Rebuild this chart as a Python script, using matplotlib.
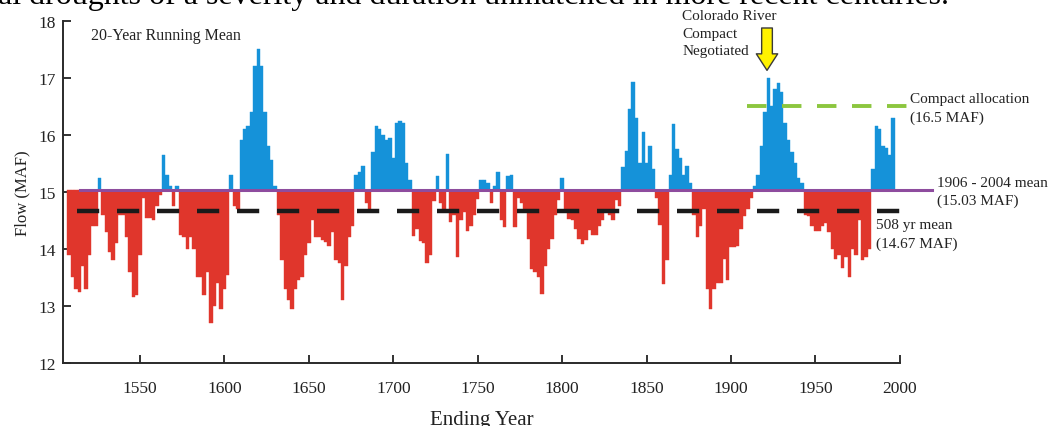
import numpy as np
import matplotlib
matplotlib.use("Agg")
from matplotlib import pyplot as plt

# 20-year running mean of Colorado River flow (MAF), one value every 2 ending years
flow_1500s = [13.9,
              13.5, 13.3, 13.25, 13.7, 13.3,
              13.9, 14.4, 14.4, 15.25, 14.6,
              14.3, 13.95, 13.8, 14.1, 14.6,
              14.6, 14.2, 13.6, 13.15, 13.2,
              13.9, 14.9, 14.55, 14.55, 14.5,
              14.75, 14.95, 15.65, 15.3, 15.1,
              14.75, 15.1, 14.25, 14.2, 14.0,
              14.2, 14.0, 13.5, 13.5, 13.2,
              13.6, 12.7, 13.0, 13.4, 12.95]
flow_1600s = [13.3, 13.55, 15.3, 14.75, 14.7,
              15.9, 16.1, 16.15, 16.4, 17.2,
              17.5, 17.2, 16.4, 15.8, 15.55,
              15.1, 14.6, 13.8, 13.3, 13.1,
              12.95, 13.3, 13.45, 13.5, 13.9,
              14.1, 14.5, 14.2, 14.2, 14.15,
              14.12, 14.05, 14.3, 13.8, 13.76,
              13.1, 13.7, 14.2, 14.4, 15.3,
              15.34, 15.46, 14.8, 14.7, 15.69,
              16.16, 16.1, 16.0, 15.9, 15.95]
flow_1700s = [15.6, 16.2, 16.25, 16.2, 15.5,
              15.2, 14.23, 14.35, 14.14, 14.1,
              13.76, 13.9, 14.84, 15.28, 14.8,
              14.64, 15.66, 14.47, 14.6, 13.85,
              14.5, 14.65, 14.32, 14.4, 14.6,
              14.88, 15.2, 15.2, 15.15, 14.8,
              15.1, 15.35, 14.5, 14.38, 15.28,
              15.3, 14.38, 14.9, 14.8, 14.7,
              14.17, 13.65, 13.6, 13.5, 13.21,
              13.7, 14.0, 14.17, 14.6, 14.85]
flow_1800s = [15.25, 14.65, 14.52, 14.5, 14.35,
              14.17, 14.08, 14.15, 14.33, 14.25,
              14.25, 14.4, 14.5, 14.7, 14.6,
              14.5, 14.85, 14.75, 15.43, 15.72,
              16.45, 16.93, 16.3, 15.5, 16.05,
              15.5, 15.8, 15.4, 14.9, 14.41,
              13.39, 13.8, 15.3, 16.19, 15.75,
              15.6, 15.3, 15.46, 15.15, 14.6,
              14.2, 14.4, 14.7, 13.3, 12.95,
              13.3, 13.4, 13.4, 13.82, 13.45]
flow_1900s = [14.03, 14.03, 14.05, 14.35, 14.58,
              14.7, 14.9, 15.1, 15.3, 15.8,
              16.4, 17.0, 16.5, 16.8, 16.9,
              16.75, 16.2, 15.9, 15.7, 15.5,
              15.25, 15.15, 14.6, 14.58, 14.4,
              14.32, 14.32, 14.4, 14.45, 14.3,
              14.0, 13.82, 13.9, 13.67, 13.85,
              13.5, 14.0, 13.9, 14.5, 13.8,
              13.85, 14.0, 15.4, 16.15, 16.1,
              15.8, 15.77, 15.65, 16.3]

first_year = 1508
recent_mean = 15.03
long_mean = 14.67
compact_alloc = 16.5
compact_year = 1922

flow = np.array(flow_1500s + flow_1600s + flow_1700s + flow_1800s + flow_1900s)
years = first_year + 2 * np.arange(len(flow))

plt.rcParams['font.family'] = ['Liberation Serif', 'DejaVu Serif']

fig = plt.figure(figsize=(10.55, 4.27), dpi=100)
ax = fig.add_axes([0.0597, 0.1475, 0.7933, 0.8018])

blue = '#1592d9'
red = '#e0362c'
colors = [blue if f >= recent_mean else red for f in flow]
ax.bar(years, flow - recent_mean, bottom=recent_mean, width=2.0,
       color=colors, edgecolor=colors, linewidth=0.3, zorder=2)

ax.plot([1514.5, 2019], [recent_mean, recent_mean], color='#8e4c9e', lw=2.2,
        zorder=3, clip_on=False)
ax.plot([1512.5, 2007.5], [long_mean, long_mean], color='#1a1a1a', lw=3.2,
        dashes=(5, 4), zorder=4, clip_on=False)
ax.plot([1909.3, 2004], [compact_alloc, compact_alloc], color='#8cc63f', lw=2.8,
        dashes=(5, 4), zorder=4, clip_on=False)

ax.annotate('', xy=(compact_year - 0.7, 17.08), xytext=(compact_year - 0.7, 17.92),
            arrowprops=dict(arrowstyle='simple,head_length=0.85,head_width=1.1,tail_width=0.55',
                            fc='#fff200', ec='#3a3a3a', lw=1.0, mutation_scale=14),
            annotation_clip=False, zorder=5)

txt = dict(fontsize=11, ha='left', linespacing=1.45, color='#222222', clip_on=False)
ax.text(1871, 18.2, 'Colorado River\nCompact\nNegotiated', va='top', **txt)
ax.text(2006, 16.47, 'Compact allocation\n(16.5 MAF)', va='center', **txt)
ax.text(2022, 15.0, '1906 - 2004 mean\n(15.03 MAF)', va='center', **txt)
ax.text(1986, 14.26, '508 yr mean\n(14.67 MAF)', va='center', **txt)
ax.text(1521, 17.75, '20-Year Running Mean', fontsize=11.5, va='center',
        ha='left', color='#222222')

fig.text(-0.002, 0.9906, 'al droughts of a severity and duration unmatched in more recent centuries.',
         fontsize=23, va='baseline', ha='left', color='black')

ax.set_xlim(1504.4, 2000)
ax.set_ylim(12, 18)
ax.set_xticks([1550, 1600, 1650, 1700, 1750, 1800, 1850, 1900, 1950, 2000])
ax.set_yticks([12, 13, 14, 15, 16, 17, 18])
ax.tick_params(direction='in', length=6, width=1.3, labelsize=12.5,
               colors='#222222')
ax.tick_params(axis='x', pad=12.5)
ax.tick_params(axis='y', pad=5)
for side in ['top', 'right']:
    ax.spines[side].set_visible(False)
for side in ['left', 'bottom']:
    ax.spines[side].set_linewidth(1.4)
    ax.spines[side].set_color('#2a2a2a')

ax.set_ylabel('Flow (MAF)', fontsize=12, color='#222222', labelpad=6)
ax.set_xlabel('Ending Year', fontsize=15, color='#222222', labelpad=10)

fig.savefig('out.png', dpi=100)
